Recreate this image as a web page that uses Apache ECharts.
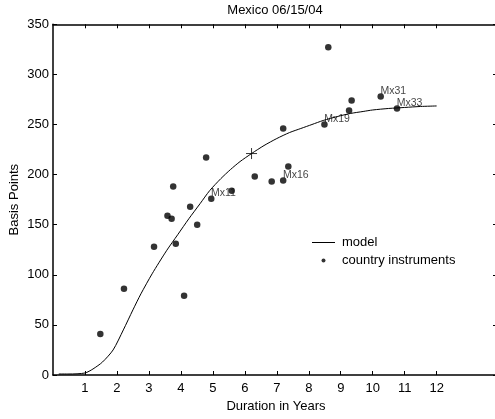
<!DOCTYPE html>
<html>
<head>
<meta charset="utf-8">
<script src="https://cdn.jsdelivr.net/npm/echarts@6/dist/echarts.min.js"></script>
<style>
html, body { margin: 0; padding: 0; background: #fff; }
#chart { width: 495px; height: 419px; }
</style>
</head>
<body>
<div id="chart"></div>
<script>
// Country instruments: duration (years) and spread (basis points)
const durations = [1.48, 2.22, 3.16, 3.58, 3.71, 3.76, 3.84, 4.10, 4.29, 4.51, 4.79, 4.95, 5.59,
                   6.31, 6.84, 7.20, 7.36, 7.20, 8.49, 8.61, 9.26, 9.34, 10.25, 10.76];
const spreads   = [41, 86, 128, 159, 156, 188, 131, 79, 168, 150, 217, 176, 184,
                   198, 193, 194, 208, 246, 250, 327, 264, 274, 278, 266];
const pointLabels = ['', '', '', '', '', '', '', '', '', '', '', 'Mx11', '',
                     '', '', 'Mx16', '', '', 'Mx19', '', '', '', 'Mx31', 'Mx33'];

// Fitted model curve
const modelDuration = [0.18, 0.5, 1.0, 1.25, 1.55, 1.88, 2.2, 2.5, 2.75, 3.1, 3.55, 3.9, 4.25, 4.6,
                       4.9, 5.25, 5.55, 5.85, 6.21, 6.6, 7.0, 7.4, 7.75, 8.1, 8.45, 8.9, 9.3,
                       9.7, 10.0, 10.5, 11.0, 11.5, 12.0];
const modelSpread   = [1, 1, 2, 6, 13, 25, 45, 65, 81, 101, 124, 140, 156, 171,
                       184, 196, 205, 213, 221, 229, 236, 242, 246, 250, 254, 258, 261,
                       263, 264.5, 266, 267, 268, 268.5];

// Marked point on the model curve
const markDuration = [6.21];
const markSpread   = [221];

const xTicks = [1, 2, 3, 4, 5, 6, 7, 8, 9, 10, 11, 12];
const yMin = 0, yMax = 350, yStep = 50;

const FONT = "'Liberation Sans', Arial, Helvetica, sans-serif";
const black = '#000';

const axisLineStyle = { color: black, width: 1.5 };
const X_MAX = 13.95;

const chart = echarts.init(document.getElementById('chart'), null, { renderer: 'canvas' });

chart.setOption({
  animation: false,
  backgroundColor: '#fff',
  textStyle: { fontFamily: FONT, color: black },
  title: {
    text: 'Mexico 06/15/04',
    left: 275,
    textAlign: 'center',
    top: 4,
    padding: 0,
    textStyle: { fontFamily: FONT, fontSize: 13, fontWeight: 'normal', color: black }
  },
  legend: {
    data: [
      { name: 'model', icon: 'path://M0,0h23v1h-23z' },
      { name: 'country instruments', icon: 'circle' }
    ],
    orient: 'vertical',
    left: 312,
    top: 236,
    padding: 0,
    itemWidth: 23,
    itemHeight: 4,
    itemGap: 5,
    selectedMode: false,
    textStyle: { fontFamily: FONT, fontSize: 13, color: black, padding: [0, 0, 0, 2] }
  },
  grid: {
    left: 53,
    top: 24.3,
    bottom: 44,
    width: 446,
    containLabel: false,
    outerBoundsMode: 'none'
  },
  xAxis: [
    {
      type: 'value',
      position: 'bottom',
      min: 0,
      max: X_MAX,
      interval: 1,
      name: 'Duration in Years',
      nameLocation: 'middle',
      nameGap: 25,
      nameMoveOverlap: false,
      nameTextStyle: { fontFamily: FONT, fontSize: 13, color: black },
      axisLine: { show: true, onZero: false, lineStyle: axisLineStyle },
      axisTick: { show: true, inside: true, length: 4, customValues: xTicks, lineStyle: { color: black } },
      axisLabel: { customValues: xTicks, margin: 7, fontFamily: FONT, fontSize: 13, color: black },
      splitLine: { show: false }
    },
    {
      type: 'value',
      position: 'top',
      min: 0,
      max: X_MAX,
      interval: 1,
      axisLine: { show: true, onZero: false, lineStyle: axisLineStyle },
      axisTick: { show: true, inside: true, length: 4, customValues: xTicks, lineStyle: { color: black } },
      axisLabel: { show: false },
      splitLine: { show: false }
    }
  ],
  yAxis: [
    {
      type: 'value',
      position: 'left',
      min: yMin,
      max: yMax,
      interval: yStep,
      name: 'Basis Points',
      nameLocation: 'middle',
      nameGap: 32,
      nameMoveOverlap: false,
      nameTextStyle: { fontFamily: FONT, fontSize: 13, color: black },
      axisLine: { show: true, onZero: false, lineStyle: axisLineStyle },
      axisTick: { show: true, inside: true, length: 4, lineStyle: { color: black } },
      axisLabel: { margin: 4, fontFamily: FONT, fontSize: 13, color: black },
      splitLine: { show: false }
    },
    {
      // right-hand frame edge sits just past the canvas; only its inward ticks show
      type: 'value',
      position: 'right',
      min: yMin,
      max: yMax,
      interval: yStep,
      axisLine: { show: false, onZero: false },
      axisTick: { show: true, inside: true, length: 6, lineStyle: { color: black } },
      axisLabel: { show: false },
      splitLine: { show: false }
    }
  ],
  series: [
    {
      name: 'model',
      type: 'line',
      xAxisIndex: 0,
      yAxisIndex: 0,
      symbol: 'none',
      smooth: 0.25,
      lineStyle: { color: black, width: 1 },
      itemStyle: { color: black },
      silent: true,
      data: modelDuration.map((d, i) => [d, modelSpread[i]])
    },
    {
      name: 'country instruments',
      type: 'scatter',
      xAxisIndex: 0,
      yAxisIndex: 0,
      symbol: 'circle',
      symbolSize: 6.5,
      itemStyle: { color: black },
      silent: true,
      label: {
        show: true,
        position: [3, -2],
        align: 'left',
        verticalAlign: 'middle',
        fontFamily: FONT,
        fontSize: 10.5,
        color: '#111',
        formatter: p => p.data[2]
      },
      data: durations.map((d, i) => [d, spreads[i], pointLabels[i]])
    },
    {
      name: 'mark',
      type: 'scatter',
      xAxisIndex: 0,
      yAxisIndex: 0,
      symbol: 'path://M0,5L10,5M5,0L5,10',
      symbolSize: 11,
      itemStyle: { color: 'none', borderColor: black, borderWidth: 1 },
      silent: true,
      data: markDuration.map((d, i) => [d, markSpread[i]])
    }
  ]
});
</script>
</body>
</html>
